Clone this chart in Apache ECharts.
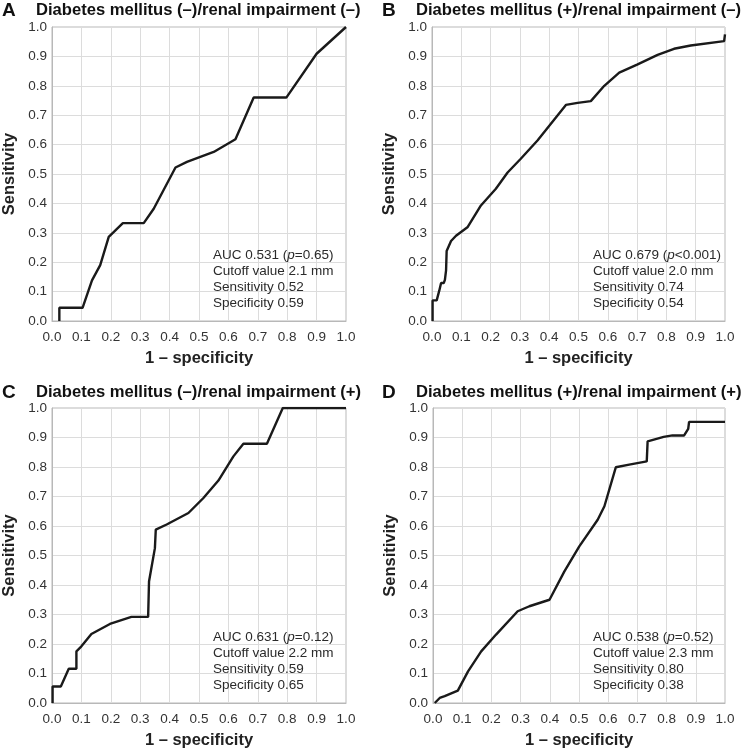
<!DOCTYPE html>
<html>
<head>
<meta charset="utf-8">
<script src="https://cdn.jsdelivr.net/npm/echarts@6/dist/echarts.min.js"></script>
<style>
html,body{margin:0;padding:0;background:#fff;}
#chart{width:742px;height:750px;}
</style>
</head>
<body>
<div id="chart"></div>
<script>
// ---- Data ----
const panelLetters = ['A', 'B', 'C', 'D'];
const panelTitles = [
  'Diabetes mellitus (–)/renal impairment (–)',
  'Diabetes mellitus (+)/renal impairment (–)',
  'Diabetes mellitus (–)/renal impairment (+)',
  'Diabetes mellitus (+)/renal impairment (+)'
];
const aucText = ['AUC 0.531', 'AUC 0.679', 'AUC 0.631', 'AUC 0.538'];
const pText = ['=0.65', '<0.001', '=0.12', '=0.52'];
const cutoffText = ['Cutoff value 2.1 mm', 'Cutoff value 2.0 mm', 'Cutoff value 2.2 mm', 'Cutoff value 2.3 mm'];
const sensText = ['Sensitivity 0.52', 'Sensitivity 0.74', 'Sensitivity 0.59', 'Sensitivity 0.80'];
const specText = ['Specificity 0.59', 'Specificity 0.54', 'Specificity 0.65', 'Specificity 0.38'];
const xAxisName = '1 – specificity';
const yAxisName = 'Sensitivity';

const rocA = [
  [0.025, 0], [0.025, 0.045], [0.104, 0.045], [0.136, 0.138], [0.164, 0.19],
  [0.193, 0.286], [0.241, 0.333], [0.312, 0.333], [0.346, 0.382], [0.42, 0.522],
  [0.459, 0.541], [0.55, 0.575], [0.624, 0.618], [0.686, 0.76], [0.797, 0.76],
  [0.90, 0.909], [1.0, 1.0]
];
const rocB = [
  [0.002, 0], [0.002, 0.07], [0.016, 0.07], [0.025, 0.104], [0.031, 0.129],
  [0.04, 0.129], [0.044, 0.14], [0.048, 0.172], [0.05, 0.238], [0.065, 0.272],
  [0.082, 0.29], [0.122, 0.32], [0.167, 0.393], [0.218, 0.45], [0.258, 0.505],
  [0.303, 0.552], [0.36, 0.614], [0.457, 0.735], [0.497, 0.742], [0.542, 0.748],
  [0.588, 0.80], [0.639, 0.845], [0.70, 0.872], [0.77, 0.905], [0.826, 0.926],
  [0.883, 0.937], [0.997, 0.952], [1.0, 0.975]
];
const rocC = [
  [0.002, 0], [0.002, 0.056], [0.03, 0.056], [0.057, 0.116], [0.083, 0.116],
  [0.083, 0.175], [0.1, 0.192], [0.134, 0.234], [0.197, 0.268], [0.27, 0.292],
  [0.327, 0.292], [0.33, 0.412], [0.35, 0.525], [0.353, 0.588], [0.39, 0.605],
  [0.464, 0.644], [0.515, 0.695], [0.566, 0.754], [0.617, 0.836], [0.651, 0.879],
  [0.731, 0.879], [0.785, 1.0], [1.0, 1.0]
];
const rocD = [
  [0.006, 0], [0.023, 0.017], [0.04, 0.023], [0.085, 0.042], [0.12, 0.107],
  [0.165, 0.175], [0.216, 0.232], [0.29, 0.311], [0.33, 0.328], [0.399, 0.35],
  [0.45, 0.446], [0.501, 0.531], [0.564, 0.621], [0.587, 0.667], [0.626, 0.799],
  [0.672, 0.808], [0.732, 0.819], [0.735, 0.887], [0.79, 0.902], [0.82, 0.907],
  [0.86, 0.907], [0.874, 0.929], [0.877, 0.953], [1.0, 0.953]
];
const rocData = [rocA, rocB, rocC, rocD];

// ---- Layout ----
const grids = [
  {left: 52, top: 27, width: 294, height: 294},
  {left: 432, top: 27, width: 293, height: 294},
  {left: 52, top: 408, width: 294, height: 295},
  {left: 433, top: 408, width: 292, height: 295}
];
const titlePos = [
  {lx: 2, tx: 36, y: 1},
  {lx: 382, tx: 416, y: 1},
  {lx: 2, tx: 36, y: 383},
  {lx: 382, tx: 416, y: 383}
];
const notePos = [
  {x: 213, y: 247}, {x: 593, y: 247}, {x: 213, y: 629}, {x: 593, y: 629}
];

const FONT = '"Liberation Sans", Arial, sans-serif';
const fmt = v => v.toFixed(1);

const option = {
  backgroundColor: '#fff',
  animation: false,
  textStyle: {fontFamily: FONT},
  title: [],
  grid: grids.map(g => Object.assign({show: true, borderColor: '#b8b8b8', borderWidth: 1}, g)),
  xAxis: grids.map((g, i) => ({
    type: 'value', gridIndex: i, min: 0, max: 1, interval: 0.1,
    name: xAxisName, nameLocation: 'middle', nameGap: 29,
    nameTextStyle: {fontSize: 16.5, fontWeight: 'bold', color: '#222', fontFamily: FONT},
    axisLine: {show: true, lineStyle: {color: '#b8b8b8'}},
    axisTick: {show: false},
    axisLabel: {fontSize: 13.5, color: '#333', margin: 9, formatter: fmt, fontFamily: FONT},
    splitLine: {show: true, lineStyle: {color: '#dcdcdc', width: 1}}
  })),
  yAxis: grids.map((g, i) => ({
    type: 'value', gridIndex: i, min: 0, max: 1, interval: 0.1,
    name: yAxisName, nameLocation: 'middle', nameGap: 34,
    nameTextStyle: {fontSize: 16.5, fontWeight: 'bold', color: '#222', fontFamily: FONT},
    axisLine: {show: true, lineStyle: {color: '#b8b8b8'}},
    axisTick: {show: false},
    axisLabel: {fontSize: 13.5, color: '#333', margin: 5, formatter: fmt, fontFamily: FONT},
    splitLine: {show: true, lineStyle: {color: '#dcdcdc', width: 1}}
  })),
  series: rocData.map((d, i) => ({
    type: 'line', xAxisIndex: i, yAxisIndex: i, data: d,
    showSymbol: false, symbol: 'none',
    lineStyle: {color: '#1a1a1a', width: 2.4},
    z: 5
  })),
  graphic: []
};

panelLetters.forEach((L, i) => {
  const p = titlePos[i];
  option.title.push({
    text: L, left: p.lx, top: p.y,
    textStyle: {fontSize: 19, fontWeight: 'bold', color: '#111', fontFamily: FONT},
    padding: 0
  });
  option.title.push({
    text: panelTitles[i], left: p.tx, top: p.y + 1,
    textStyle: {fontSize: 16.6, fontWeight: 'bold', color: '#111', fontFamily: FONT},
    padding: 0
  });
  const n = notePos[i];
  option.graphic.push({
    type: 'text', left: n.x, top: n.y, z: 10,
    style: {
      text: aucText[i] + ' ({i|p}' + pText[i] + ')\n' + cutoffText[i] + '\n' + sensText[i] + '\n' + specText[i],
      fontSize: 13.5, lineHeight: 16, fill: '#2a2a2a', fontFamily: FONT,
      rich: {i: {fontStyle: 'italic', fontSize: 13.5, fill: '#2a2a2a', fontFamily: FONT}}
    }
  });
});

const chart = echarts.init(document.getElementById('chart'), null, {renderer: 'canvas'});
chart.setOption(option);
</script>
</body>
</html>
